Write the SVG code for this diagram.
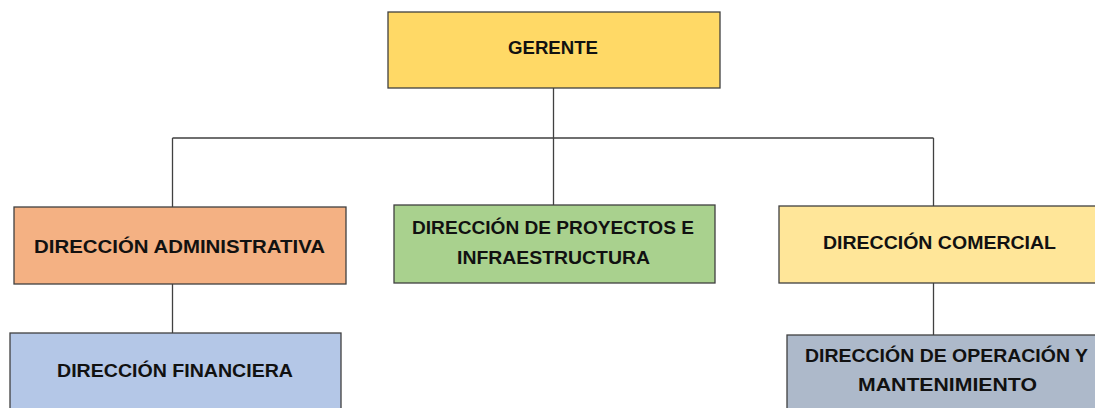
<svg xmlns="http://www.w3.org/2000/svg" width="1095" height="408" viewBox="0 0 1095 408">
<style>
.box{stroke:#404040;stroke-width:1.3}
.t{font-family:"Liberation Sans",Arial,sans-serif;font-weight:bold;font-size:18.5px;fill:#111;text-anchor:middle}
.c{stroke:#404040;stroke-width:1.3;fill:none}
</style>
<rect width="1095" height="408" fill="#fff"/>
<g id="connectors">
<path class="c" d="M553.5 88V205M172.5 138H933.5M172.5 138V207M933.5 138V206M172.5 284V333M933.5 283V335"/>
</g>
<g id="gerente">
<rect class="box" x="388" y="12" width="332" height="76" fill="#FFD966"/>
<text class="t" x="553" y="54" textLength="90" lengthAdjust="spacingAndGlyphs">GERENTE</text>
</g>
<g id="admin">
<rect class="box" x="14" y="207" width="332" height="77" fill="#F4B183"/>
<text class="t" x="179.5" y="253" textLength="291" lengthAdjust="spacingAndGlyphs">DIRECCIÓN ADMINISTRATIVA</text>
</g>
<g id="proyectos">
<rect class="box" x="394" y="205" width="321" height="78" fill="#A9D18E"/>
<text class="t" x="553" y="234" textLength="282" lengthAdjust="spacingAndGlyphs">DIRECCIÓN DE PROYECTOS E</text>
<text class="t" x="553.5" y="264" textLength="193" lengthAdjust="spacingAndGlyphs">INFRAESTRUCTURA</text>
</g>
<g id="comercial">
<rect class="box" x="779" y="206" width="322" height="77" fill="#FFE699"/>
<text class="t" x="939.5" y="249" textLength="233" lengthAdjust="spacingAndGlyphs">DIRECCIÓN COMERCIAL</text>
</g>
<g id="financiera">
<rect class="box" x="10" y="333" width="331" height="80" fill="#B4C7E7"/>
<text class="t" x="175" y="377" textLength="236" lengthAdjust="spacingAndGlyphs">DIRECCIÓN FINANCIERA</text>
</g>
<g id="operacion">
<rect class="box" x="787" y="335" width="320" height="80" fill="#ADB9CA"/>
<text class="t" x="946.5" y="362" textLength="283" lengthAdjust="spacingAndGlyphs">DIRECCIÓN DE OPERACIÓN Y</text>
<text class="t" x="947.5" y="391" textLength="179" lengthAdjust="spacingAndGlyphs">MANTENIMIENTO</text>
</g>
</svg>
